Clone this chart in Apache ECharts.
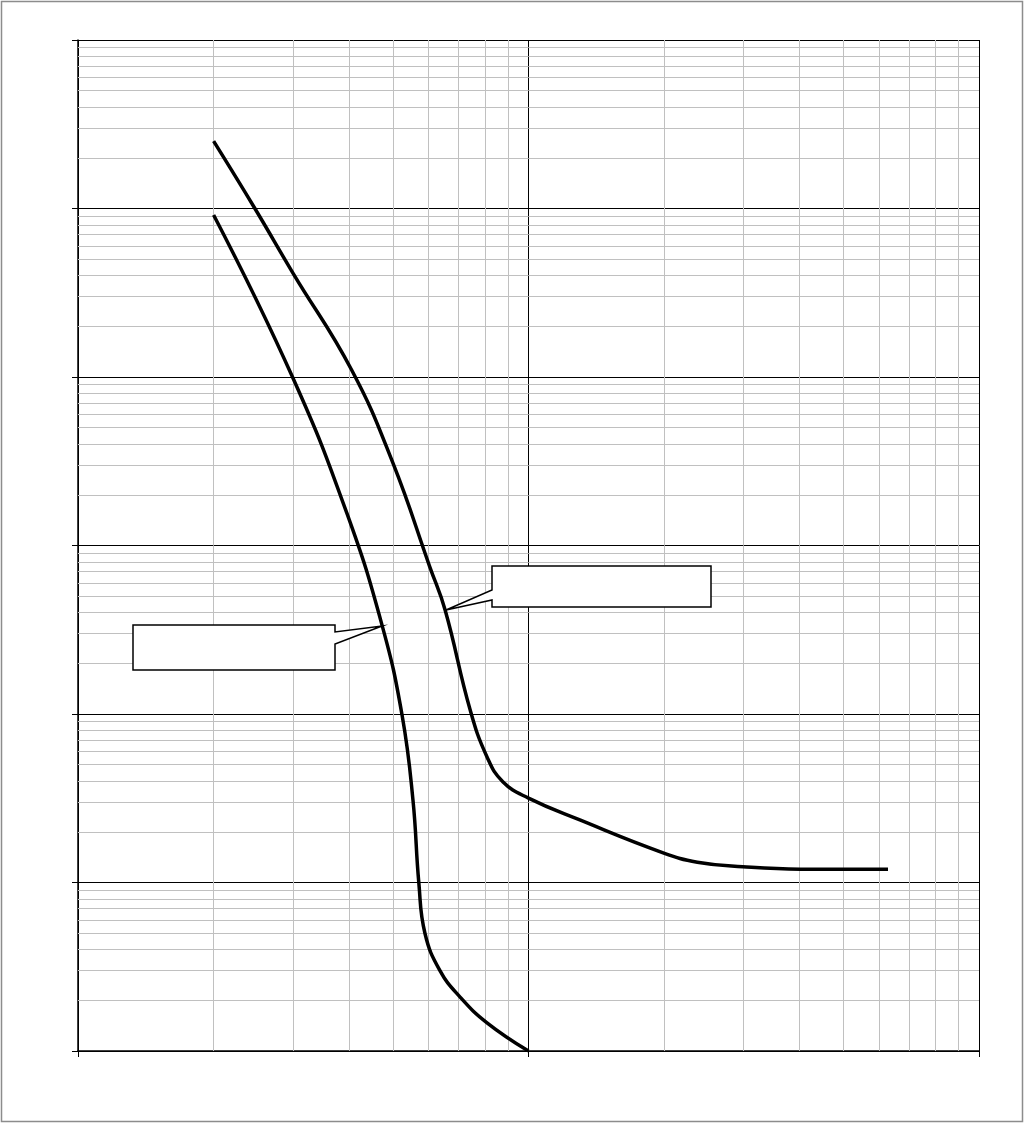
<!DOCTYPE html>
<html>
<head>
<meta charset="utf-8">
<title>chart</title>
<script src="https://cdn.jsdelivr.net/npm/echarts@6/dist/echarts.min.js"></script>
<style>
  html, body { margin: 0; padding: 0; background: #fff; }
  #main { width: 1026px; height: 1124px; }
</style>
</head>
<body>
<div id="main"></div>
<script>
// upper curve [x, y]
var upperCurve = [
  [2.0, 251000], [2.47, 100000], [3.0, 41400], [4.05, 11000],
  [5.0, 3090], [6.04, 745], [6.53, 414], [7.42, 106], [8.09, 55.6],
  [8.78, 39.5], [10.0, 31.7], [13.0, 23.5], [19.9, 15.0],
  [23.7, 13.2], [29.9, 12.4], [40.1, 12.0], [62.8, 12.0]
];
// lower curve [x, y]
var lowerCurve = [
  [2.0, 91500], [3.0, 9860], [3.95, 1560], [4.73, 337],
  [5.24, 98.6], [5.54, 30.9], [5.71, 9.9], [5.89, 5.0], [6.36, 3.0],
  [7.05, 2.09], [8.09, 1.47], [10.0, 1.0]
];
// axis ranges (log)
var xRange = [1, 100];
var yRange = [1, 1000000];
var minorSteps = [2, 3, 4, 5, 6, 7, 8, 9];
// callout anchor points on the curves
var calloutUpper = [6.56, 414];
var calloutLower = [4.73, 333];

window.onload = function() {
  var chart = echarts.init(document.getElementById('main'));

  // minor grid lines (2..9 in each decade)
  var minorLines = [];
  for (var d = xRange[0]; d < xRange[1]; d *= 10) {
    minorSteps.forEach(function(m) { minorLines.push({ xAxis: d * m }); });
  }
  for (var e = yRange[0]; e < yRange[1]; e *= 10) {
    minorSteps.forEach(function(m) { minorLines.push({ yAxis: e * m }); });
  }

  var lineStyle = { color: '#000', width: 3.5 };

  var option = {
    animation: false,
    backgroundColor: '#fff',
    grid: { left: 78, top: 40, right: 47, bottom: 73, containLabel: false },
    xAxis: {
      type: 'log', logBase: 10, min: xRange[0], max: xRange[1],
      axisLine: { show: true, onZero: false, lineStyle: { color: '#000', width: 1.5 } },
      axisTick: { show: true, length: 6, lineStyle: { color: '#000' } },
      axisLabel: { show: false },
      splitLine: { show: true, lineStyle: { color: '#000', width: 1 } }
    },
    yAxis: {
      type: 'log', logBase: 10, min: yRange[0], max: yRange[1],
      axisLine: { show: true, onZero: false, lineStyle: { color: '#000', width: 1.5 } },
      axisTick: { show: true, length: 6, lineStyle: { color: '#000' } },
      axisLabel: { show: false },
      splitLine: { show: true, lineStyle: { color: '#000', width: 1 } }
    },
    series: [
      {
        type: 'line', data: [], z: 1, silent: true,
        markLine: {
          silent: true, symbol: ['none', 'none'], animation: false,
          label: { show: false },
          lineStyle: { color: '#c0c0c0', width: 1, type: 'solid' },
          data: minorLines
        }
      },
      {
        name: 'upper', type: 'line', data: upperCurve, z: 5,
        showSymbol: false, smooth: 0.45, lineStyle: lineStyle
      },
      {
        name: 'lower', type: 'line', data: lowerCurve, z: 5,
        showSymbol: false, smooth: 0.45, lineStyle: lineStyle
      }
    ]
  };
  chart.setOption(option);

  // callout boxes
  var tipU = chart.convertToPixel({ gridIndex: 0 }, calloutUpper);
  var tipL = chart.convertToPixel({ gridIndex: 0 }, calloutLower);

  chart.setOption({
    graphic: [
      {
        type: 'rect', z: 0,
        shape: { x: 1.5, y: 1.5, width: 1021, height: 1120 },
        style: { fill: null, stroke: '#8c8c8c', lineWidth: 1.5 }
      },
      {
        type: 'polygon', z: 10,
        shape: { points: [[492, 566], [711, 566], [711, 607], [492, 607], [492, 600], tipU, [492, 590]] },
        style: { fill: '#fff', stroke: '#000', lineWidth: 1.5 }
      },
      {
        type: 'polygon', z: 10,
        shape: { points: [[133, 625], [335, 625], [335, 632], tipL, [335, 644], [335, 670], [133, 670]] },
        style: { fill: '#fff', stroke: '#000', lineWidth: 1.5 }
      }
    ]
  });
};
</script>
</body>
</html>
